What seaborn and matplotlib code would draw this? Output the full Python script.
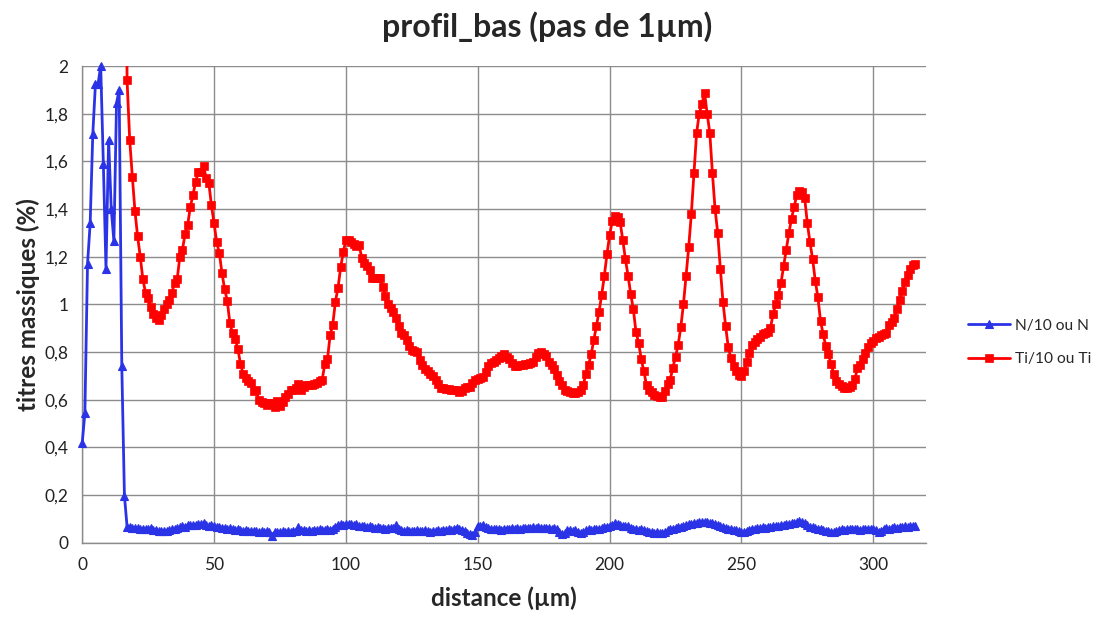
import numpy as np
import pandas as pd
import matplotlib
matplotlib.use("Agg")
import matplotlib.pyplot as plt
from matplotlib.ticker import FuncFormatter
import seaborn as sns

# --- DATA (1 µm step) ---
TITLE = "profil_bas (pas de 1µm)"
X_LABEL = "distance (µm)"
Y_LABEL = "titres massiques (%)"
N_LABEL = "N/10 ou N"
TI_LABEL = "Ti/10 ou Ti"

# N profile, starts at 0 µm
N_VALUES = [
    0.42, 0.545, 1.17, 1.34, 1.715, 1.925, 1.925, 2.0, 1.59, 1.15,
    1.69, 1.40, 1.265, 1.845, 1.90, 0.74, 0.197,
    0.068, 0.065, 0.064, 0.062, 0.063, 0.060, 0.058, 0.059, 0.056, 0.062,
    0.055, 0.052, 0.050, 0.051, 0.049, 0.048, 0.053, 0.056, 0.058, 0.062,
    0.066, 0.070, 0.068, 0.074, 0.073, 0.076, 0.075, 0.078, 0.077, 0.083,
    0.076, 0.072, 0.073, 0.070, 0.066, 0.068, 0.064, 0.062, 0.060, 0.063,
    0.058, 0.054, 0.057, 0.052, 0.050, 0.053, 0.049, 0.051, 0.048, 0.050,
    0.047, 0.049, 0.046, 0.050, 0.044, 0.028, 0.045, 0.047, 0.044, 0.048,
    0.046, 0.049, 0.045, 0.050, 0.048, 0.066, 0.052, 0.054, 0.050, 0.053,
    0.051, 0.055, 0.052, 0.056, 0.054, 0.053, 0.057, 0.055, 0.060, 0.068,
    0.074, 0.078, 0.076, 0.080, 0.077, 0.079, 0.075, 0.077, 0.072, 0.070,
    0.071, 0.068, 0.070, 0.066, 0.064, 0.066, 0.062, 0.063, 0.060, 0.064,
    0.061, 0.063, 0.074, 0.058, 0.052, 0.050, 0.053, 0.049, 0.051, 0.048,
    0.052, 0.050, 0.049, 0.053, 0.050, 0.047, 0.051, 0.049, 0.052, 0.050,
    0.054, 0.052, 0.057, 0.055, 0.058, 0.064, 0.056, 0.054, 0.050, 0.042,
    0.036, 0.033, 0.045, 0.072, 0.070, 0.074, 0.066, 0.062, 0.058, 0.060,
    0.056, 0.058, 0.055, 0.060, 0.057, 0.059, 0.061, 0.058, 0.062, 0.060,
    0.063, 0.061, 0.064, 0.062, 0.065, 0.063, 0.066, 0.062, 0.064, 0.061,
    0.063, 0.060, 0.062, 0.058, 0.045, 0.036, 0.040, 0.052, 0.055, 0.050,
    0.053, 0.046, 0.040, 0.044, 0.052, 0.056, 0.054, 0.058, 0.060, 0.057,
    0.062, 0.066, 0.068, 0.072, 0.075, 0.082, 0.078, 0.074, 0.072, 0.069,
    0.070, 0.064, 0.060, 0.058, 0.055, 0.057, 0.053, 0.050, 0.046, 0.044,
    0.042, 0.045, 0.041, 0.043, 0.047, 0.052, 0.056, 0.060, 0.063, 0.066,
    0.068, 0.072, 0.075, 0.078, 0.080, 0.082, 0.084, 0.086, 0.087, 0.088,
    0.086, 0.085, 0.083, 0.080, 0.076, 0.072, 0.068, 0.064, 0.060, 0.057,
    0.055, 0.053, 0.050, 0.047, 0.046, 0.049, 0.055, 0.060, 0.058, 0.063,
    0.061, 0.065, 0.064, 0.068, 0.066, 0.070, 0.072, 0.071, 0.074, 0.076,
    0.078, 0.080, 0.082, 0.085, 0.088, 0.090, 0.089, 0.083, 0.074, 0.068,
    0.065, 0.062, 0.058, 0.056, 0.053, 0.050, 0.048, 0.046, 0.047, 0.049,
    0.052, 0.056, 0.054, 0.058, 0.056, 0.060, 0.057, 0.059, 0.055, 0.058,
    0.060, 0.057, 0.059, 0.056, 0.052, 0.046, 0.050, 0.058, 0.061, 0.059,
    0.063, 0.066, 0.062, 0.068, 0.065, 0.070, 0.067, 0.072, 0.069, 0.071,
]

# Ti profile, first value off-scale at 16 µm
TI_START = 16
TI_VALUES = [
    3.5, 1.94, 1.69, 1.535, 1.39, 1.285, 1.20, 1.105, 1.05, 1.025,
    0.99, 0.96, 0.945, 0.935, 0.955, 0.98, 1.0, 1.02, 1.05, 1.09,
    1.105, 1.20, 1.23, 1.295, 1.335, 1.41, 1.46, 1.515, 1.555, 1.555,
    1.58, 1.53, 1.51, 1.415, 1.34, 1.26, 1.215, 1.13, 1.065, 1.015,
    0.92, 0.88, 0.855, 0.815, 0.75, 0.71, 0.69, 0.68, 0.67, 0.635,
    0.64, 0.60, 0.59, 0.585, 0.58, 0.585, 0.587, 0.57, 0.595, 0.575,
    0.59, 0.61, 0.625, 0.64, 0.64, 0.65, 0.665, 0.64, 0.655, 0.66,
    0.66, 0.66, 0.665, 0.67, 0.68, 0.685, 0.75, 0.77, 0.87, 0.915,
    1.01, 1.07, 1.155, 1.22, 1.27, 1.27, 1.26, 1.255, 1.245, 1.25,
    1.195, 1.175, 1.16, 1.145, 1.11, 1.11, 1.11, 1.11, 1.075, 1.035,
    1.0, 0.985, 0.97, 0.945, 0.91, 0.88, 0.87, 0.85, 0.825, 0.81,
    0.805, 0.80, 0.765, 0.745, 0.73, 0.72, 0.71, 0.70, 0.685, 0.665,
    0.65, 0.648, 0.646, 0.644, 0.64, 0.64, 0.64, 0.632, 0.638, 0.65,
    0.655, 0.655, 0.67, 0.683, 0.688, 0.69, 0.696, 0.715, 0.74, 0.755,
    0.76, 0.768, 0.775, 0.785, 0.79, 0.78, 0.772, 0.755, 0.742, 0.742,
    0.745, 0.745, 0.748, 0.752, 0.755, 0.76, 0.78, 0.795, 0.80, 0.79,
    0.782, 0.76, 0.745, 0.73, 0.705, 0.68, 0.66, 0.64, 0.636, 0.632,
    0.63, 0.63, 0.632, 0.64, 0.66, 0.71, 0.745, 0.79, 0.85, 0.91,
    0.97, 1.04, 1.12, 1.21, 1.29, 1.35, 1.372, 1.368, 1.345, 1.27,
    1.19, 1.12, 1.045, 0.98, 0.885, 0.84, 0.77, 0.72, 0.66, 0.642,
    0.632, 0.62, 0.615, 0.613, 0.613, 0.635, 0.665, 0.685, 0.735, 0.78,
    0.83, 0.905, 1.0, 1.12, 1.24, 1.38, 1.55, 1.72, 1.80, 1.84,
    1.888, 1.80, 1.72, 1.55, 1.40, 1.30, 1.15, 1.01, 0.91, 0.82,
    0.775, 0.74, 0.72, 0.705, 0.70, 0.72, 0.76, 0.795, 0.83, 0.843,
    0.855, 0.862, 0.875, 0.88, 0.885, 0.90, 0.96, 1.0, 1.04, 1.09,
    1.16, 1.23, 1.30, 1.36, 1.41, 1.46, 1.477, 1.472, 1.445, 1.34,
    1.26, 1.19, 1.10, 1.03, 0.93, 0.875, 0.825, 0.79, 0.75, 0.71,
    0.68, 0.668, 0.658, 0.65, 0.65, 0.655, 0.662, 0.686, 0.732, 0.746,
    0.771, 0.795, 0.82, 0.839, 0.847, 0.858, 0.865, 0.871, 0.878, 0.881,
    0.915, 0.927, 0.945, 0.98, 1.02, 1.055, 1.095, 1.125, 1.15, 1.165,
    1.168,
]

X_TICKS = [0, 50, 100, 150, 200, 250, 300]
Y_TICKS = [0, 0.2, 0.4, 0.6, 0.8, 1.0, 1.2, 1.4, 1.6, 1.8, 2.0]

BLUE = '#2b33e6'
RED = '#ff0000'
GRID = '#8c8c8c'


def comma_fmt(v, pos):
    return f"{v:g}".replace('.', ',')


def main():
    sns.set_style("white")
    plt.rcParams['font.family'] = ['Lato', 'DejaVu Sans']

    df_n = pd.DataFrame({'distance': np.arange(len(N_VALUES)), 'titre': N_VALUES})
    df_ti = pd.DataFrame({'distance': np.arange(TI_START, TI_START + len(TI_VALUES)),
                          'titre': TI_VALUES})

    fig, ax = plt.subplots(figsize=(11.07, 6.2), dpi=100)
    fig.subplots_adjust(left=0.0743, right=0.8365, top=0.8935, bottom=0.1245)

    # N stays unclipped like the Excel markers; Ti's off-scale start must be clipped
    sns.lineplot(data=df_n, x='distance', y='titre', ax=ax, color=BLUE,
                 linewidth=2.0, marker='^', markersize=5.5, markeredgecolor=BLUE,
                 markeredgewidth=0.8, label=N_LABEL, zorder=3, clip_on=False)
    sns.lineplot(data=df_ti, x='distance', y='titre', ax=ax, color=RED,
                 linewidth=2.0, marker='s', markersize=5.5, markeredgecolor=RED,
                 markeredgewidth=0.5, label=TI_LABEL, zorder=4)

    ax.set_xlim(0, 320)
    ax.set_ylim(0, 2)
    ax.set_xticks(X_TICKS)
    ax.set_yticks(Y_TICKS)
    ax.yaxis.set_major_formatter(FuncFormatter(comma_fmt))
    ax.xaxis.set_major_formatter(FuncFormatter(comma_fmt))

    ax.set_axisbelow(True)
    ax.grid(True, color=GRID, linewidth=1.0)
    for side in ['top', 'right']:
        ax.spines[side].set_visible(False)
    for side in ['left', 'bottom']:
        ax.spines[side].set_color(GRID)
        ax.spines[side].set_linewidth(1.0)
    ax.tick_params(axis='both', direction='out', length=5, width=1.0,
                   color=GRID, labelsize=12.5, labelcolor='#222222', pad=5)

    ax.set_xlabel(X_LABEL, fontsize=17.5, fontweight='bold', labelpad=10)
    ax.set_ylabel(Y_LABEL, fontsize=17.5, fontweight='bold', labelpad=3)
    fig.text(0.4946, 1 - 27 / 620, TITLE, ha='center', va='center',
             fontsize=23, fontweight='bold')

    handles, labels = ax.get_legend_handles_labels()
    ax.get_legend().remove()
    fig.legend(handles, labels, loc='center left', bbox_to_anchor=(0.862, 0.448),
               frameon=False, fontsize=11.2, handlelength=2.7, labelspacing=1.25,
               handletextpad=0.3)

    plt.savefig("out.png", dpi=100)
    plt.close()


if __name__ == "__main__":
    main()
